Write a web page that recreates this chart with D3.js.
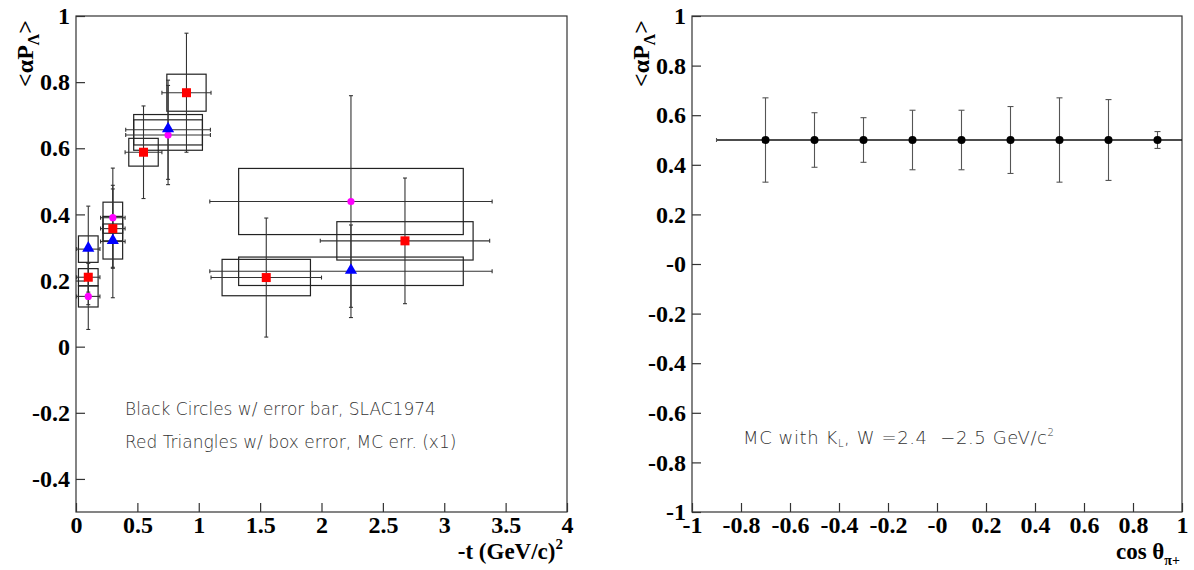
<!DOCTYPE html>
<html>
<head>
<meta charset="utf-8">
<script src="https://cdnjs.cloudflare.com/ajax/libs/d3/7.8.5/d3.min.js"></script>
<style>
body{margin:0;background:#fff}
svg{display:block}
.tick text{font-family:"Liberation Serif","Times New Roman",serif;font-weight:bold;font-size:24px;fill:#000}
.title{font-family:"Liberation Serif","Times New Roman",serif;font-weight:bold;font-size:23px;fill:#000}
.note{font-family:"DejaVu Sans",sans-serif;font-weight:200;font-size:17px;fill:#333;white-space:pre}
</style>
</head>
<body>
<svg id="chart"></svg>
<script>
// left panel: <alpha P_Lambda> vs -t, three sets of points with error bars and boxes
var redT     = [0.10, 0.30, 0.55, 0.90, 1.55, 2.68]
var redP     = [0.210, 0.357, 0.588, 0.768, 0.209, 0.320]
var redTErr  = [0.095, 0.10, 0.15, 0.20, 0.45, 0.69]
var redPErr  = [0.083, 0.12, 0.14, 0.18, 0.18, 0.19]
var redBoxT  = [0.08, 0.08, 0.12, 0.16, 0.36, 0.555]
var redBoxP  = [0.026, 0.037, 0.042, 0.056, 0.055, 0.058]

var slacT    = [0.10, 0.30, 0.75, 2.24]
var slacTErr = [0.095, 0.10, 0.345, 1.15]
var slacBoxT = [0.08, 0.08, 0.28, 0.915]

var blueP    = [0.295, 0.318, 0.656, 0.228]
var bluePErr = [0.13, 0.17, 0.15, 0.14]
var blueBoxP = [0.040, 0.053, 0.046, 0.043]

var magP     = [0.152, 0.390, 0.640, 0.439]
var magPErr  = [0.10, 0.15, 0.15, 0.32]
var magBoxP  = [0.032, 0.047, 0.046, 0.100]

var leftXTicks  = [0, 0.5, 1, 1.5, 2, 2.5, 3, 3.5, 4]
var leftXLabels = ["0", "0.5", "1", "1.5", "2", "2.5", "3", "3.5", "4"]
var leftYTicks  = [-0.4, -0.2, 0, 0.2, 0.4, 0.6, 0.8, 1]
var leftYLabels = ["-0.4", "-0.2", "0", "0.2", "0.4", "0.6", "0.8", "1"]

// right panel: <alpha P_Lambda> vs cos theta
var cosTheta   = [-0.7, -0.5, -0.3, -0.1, 0.1, 0.3, 0.5, 0.7, 0.9]
var alphaP     = [0.5, 0.5, 0.5, 0.5, 0.5, 0.5, 0.5, 0.5, 0.5]
var alphaPErr  = [0.17, 0.11, 0.09, 0.12, 0.12, 0.135, 0.17, 0.163, 0.034]
var cosErrLow  = [0.2, 0.1, 0.1, 0.1, 0.1, 0.1, 0.1, 0.1, 0.1]
var cosErrHigh = [0.1, 0.1, 0.1, 0.1, 0.1, 0.1, 0.1, 0.1, 0.1]

var rightTicks  = [-1, -0.8, -0.6, -0.4, -0.2, 0, 0.2, 0.4, 0.6, 0.8, 1]
var rightLabels = ["-1", "-0.8", "-0.6", "-0.4", "-0.2", "-0", "0.2", "0.4", "0.6", "0.8", "1"]

var screen = {width:1194, height:570}
var frame = {top:16, bottom:512}
var leftBox = {left:76, right:567}
var rightBox = {left:692, right:1182}

var svg = d3.select("#chart")
            .attr("width", screen.width)
            .attr("height", screen.height)

var makeAxes = function(xScale, yScale, box, xTicks, xLabels, yTicks, yLabels)
{
    var g = svg.append("g")

    g.append("rect")
     .attr("x", box.left)
     .attr("y", frame.top)
     .attr("width", box.right - box.left)
     .attr("height", frame.bottom - frame.top)
     .attr("fill", "none")
     .attr("stroke", "#333")
     .attr("stroke-width", 1.2)

    var xAxis = d3.axisBottom(xScale)
                  .tickValues(xTicks)
                  .tickFormat(function(d, i){return xLabels[i]})
                  .tickSizeInner(-9)
                  .tickSizeOuter(0)
                  .tickPadding(4)
    var yAxis = d3.axisLeft(yScale)
                  .tickValues(yTicks)
                  .tickFormat(function(d, i){return yLabels[i]})
                  .tickSizeInner(-9)
                  .tickSizeOuter(0)
                  .tickPadding(6)

    g.append("g")
     .attr("transform", "translate(0," + frame.bottom + ")")
     .call(xAxis)
    g.append("g")
     .attr("transform", "translate(" + box.left + ",0)")
     .call(yAxis)

    g.selectAll(".domain").remove()
    g.selectAll(".tick line").attr("stroke", "#333").attr("stroke-width", 1.2)
}

var yTitle = function(x)
{
    var t = svg.append("text")
               .attr("class", "title")
               .attr("transform", "translate(" + x + "," + (frame.top + 4) + ") rotate(-90)")
               .attr("text-anchor", "end")
    t.append("tspan").style("font-size", "24px").text("<αP")
    t.append("tspan").style("font-size", "16px").attr("dy", 6).text("Λ")
    t.append("tspan").style("font-size", "24px").attr("dy", -6).text(">")
}

var errorBars = function(g, pts, xScale, yScale, color, cap)
{
    var bars = g.append("g")
                .attr("stroke", color)
                .attr("stroke-width", 1.1)

    bars.selectAll(".hbar")
        .data(pts)
        .enter()
        .append("line")
        .attr("class", "hbar")
        .attr("x1", function(d){return xScale(d.x - d.xlo)})
        .attr("x2", function(d){return xScale(d.x + d.xhi)})
        .attr("y1", function(d){return yScale(d.y)})
        .attr("y2", function(d){return yScale(d.y)})

    bars.selectAll(".vbar")
        .data(pts)
        .enter()
        .append("line")
        .attr("class", "vbar")
        .attr("x1", function(d){return xScale(d.x)})
        .attr("x2", function(d){return xScale(d.x)})
        .attr("y1", function(d){return yScale(d.y - d.ylo)})
        .attr("y2", function(d){return yScale(d.y + d.yhi)})

    // little end ticks
    var vcaps = []
    pts.forEach(function(d)
    {
        vcaps.push({x:d.x, y:d.y - d.ylo})
        vcaps.push({x:d.x, y:d.y + d.yhi})
    })
    bars.selectAll(".vcap")
        .data(vcaps)
        .enter()
        .append("line")
        .attr("class", "vcap")
        .attr("x1", function(d){return xScale(d.x) - cap})
        .attr("x2", function(d){return xScale(d.x) + cap})
        .attr("y1", function(d){return yScale(d.y)})
        .attr("y2", function(d){return yScale(d.y)})

    var hcaps = []
    pts.forEach(function(d)
    {
        if (d.capLeft) hcaps.push({x:d.x - d.xlo, y:d.y})
        if (d.capRight) hcaps.push({x:d.x + d.xhi, y:d.y})
    })
    bars.selectAll(".hcap")
        .data(hcaps)
        .enter()
        .append("line")
        .attr("class", "hcap")
        .attr("x1", function(d){return xScale(d.x)})
        .attr("x2", function(d){return xScale(d.x)})
        .attr("y1", function(d){return yScale(d.y) - 2})
        .attr("y2", function(d){return yScale(d.y) + 2})

    return bars
}

var boxes = function(g, pts, xScale, yScale)
{
    g.append("g")
     .selectAll("rect")
     .data(pts)
     .enter()
     .append("rect")
     .attr("x", function(d){return xScale(d.x - d.bx)})
     .attr("y", function(d){return yScale(d.y + d.by)})
     .attr("width", function(d){return xScale(d.x + d.bx) - xScale(d.x - d.bx)})
     .attr("height", function(d){return yScale(d.y - d.by) - yScale(d.y + d.by)})
     .attr("fill", "none")
     .attr("stroke", "#222")
     .attr("stroke-width", 1.2)
}

var toPoints = function(ts, ps, terr, perr, bt, bp)
{
    return ts.map(function(t, i)
    {
        return {x:t, y:ps[i], xlo:terr[i], xhi:terr[i], ylo:perr[i], yhi:perr[i],
                bx:bt[i], by:bp[i], capLeft:true, capRight:true}
    })
}

var drawLeft = function()
{
    var xScale = d3.scaleLinear().domain([0, 4]).range([leftBox.left, leftBox.right])
    var yScale = d3.scaleLinear().domain([-0.5, 1]).range([frame.bottom, frame.top])

    makeAxes(xScale, yScale, leftBox, leftXTicks, leftXLabels, leftYTicks, leftYLabels)

    var red = toPoints(redT, redP, redTErr, redPErr, redBoxT, redBoxP)
    var blue = toPoints(slacT, blueP, slacTErr, bluePErr, slacBoxT, blueBoxP)
    var mag = toPoints(slacT, magP, slacTErr, magPErr, slacBoxT, magBoxP)

    var g = svg.append("g")
    boxes(g, mag, xScale, yScale)
    boxes(g, blue, xScale, yScale)
    boxes(g, red, xScale, yScale)
    errorBars(g, mag, xScale, yScale, "#333", 2)
    errorBars(g, blue, xScale, yScale, "#333", 2)
    errorBars(g, red, xScale, yScale, "#333", 2)

    g.append("g")
     .selectAll("circle")
     .data(mag)
     .enter()
     .append("circle")
     .attr("cx", function(d){return xScale(d.x)})
     .attr("cy", function(d){return yScale(d.y)})
     .attr("r", 3.6)
     .attr("fill", "#ff00ff")

    g.append("g")
     .selectAll("path")
     .data(blue)
     .enter()
     .append("path")
     .attr("d", d3.symbol().type(d3.symbolTriangle).size(64))
     .attr("transform", function(d){return "translate(" + xScale(d.x) + "," + (yScale(d.y) - 1) + ")"})
     .attr("fill", "#0000ff")

    g.append("g")
     .selectAll("rect")
     .data(red)
     .enter()
     .append("rect")
     .attr("x", function(d){return xScale(d.x) - 4.5})
     .attr("y", function(d){return yScale(d.y) - 4.5})
     .attr("width", 9)
     .attr("height", 9)
     .attr("fill", "#ff0000")

    yTitle(leftBox.left - 43)

    var xt = svg.append("text")
                .attr("class", "title")
                .attr("x", leftBox.right - 4)
                .attr("y", 559)
                .attr("text-anchor", "end")
    xt.append("tspan").text("-t (GeV/c)")
    xt.append("tspan").style("font-size", "15px").attr("dy", -10).text("2")

    svg.append("text")
       .attr("class", "note")
       .attr("x", 125)
       .attr("y", 415)
       .text("Black Circles w/ error bar, SLAC1974")
    svg.append("text")
       .attr("class", "note")
       .attr("x", 125)
       .attr("y", 448)
       .text("Red Triangles w/ box error, MC err. (x1)")
}

var drawRight = function()
{
    var xScale = d3.scaleLinear().domain([-1, 1]).range([rightBox.left, rightBox.right])
    var yScale = d3.scaleLinear().domain([-1, 1]).range([frame.bottom, frame.top])

    makeAxes(xScale, yScale, rightBox, rightTicks, rightLabels, rightTicks, rightLabels)

    var pts = cosTheta.map(function(c, i)
    {
        return {x:c, y:alphaP[i], xlo:cosErrLow[i], xhi:cosErrHigh[i],
                ylo:alphaPErr[i], yhi:alphaPErr[i],
                capLeft:i == 0, capRight:false}
    })

    var g = svg.append("g")
    var bars = errorBars(g, pts, xScale, yScale, "#555", 3)
    bars.selectAll(".hbar")
        .attr("stroke", "#111")
        .attr("stroke-width", 1.6)

    g.append("g")
     .selectAll("circle")
     .data(pts)
     .enter()
     .append("circle")
     .attr("cx", function(d){return xScale(d.x)})
     .attr("cy", function(d){return yScale(d.y)})
     .attr("r", 4)
     .attr("fill", "#000")

    yTitle(rightBox.left - 43)

    var xt = svg.append("text")
                .attr("class", "title")
                .attr("x", rightBox.right - 2)
                .attr("y", 559)
                .attr("text-anchor", "end")
    xt.append("tspan").text("cos θ")
    xt.append("tspan").style("font-size", "14px").attr("dy", 6).text("π+")

    var note = svg.append("text")
                  .attr("class", "note")
                  .attr("x", 743)
                  .attr("y", 444)
                  .style("font-size", "18px")
                  .style("letter-spacing", "0.6px")
    note.append("tspan").text("MC with K")
    note.append("tspan").style("font-size", "10px").attr("dy", 3).text("L")
    note.append("tspan").attr("dy", -3).text(", W =2.4  \u22122.5 GeV/c")
    note.append("tspan").style("font-size", "10px").attr("dy", -8).text("2")
}

drawLeft()
drawRight()
</script>
</body>
</html>
